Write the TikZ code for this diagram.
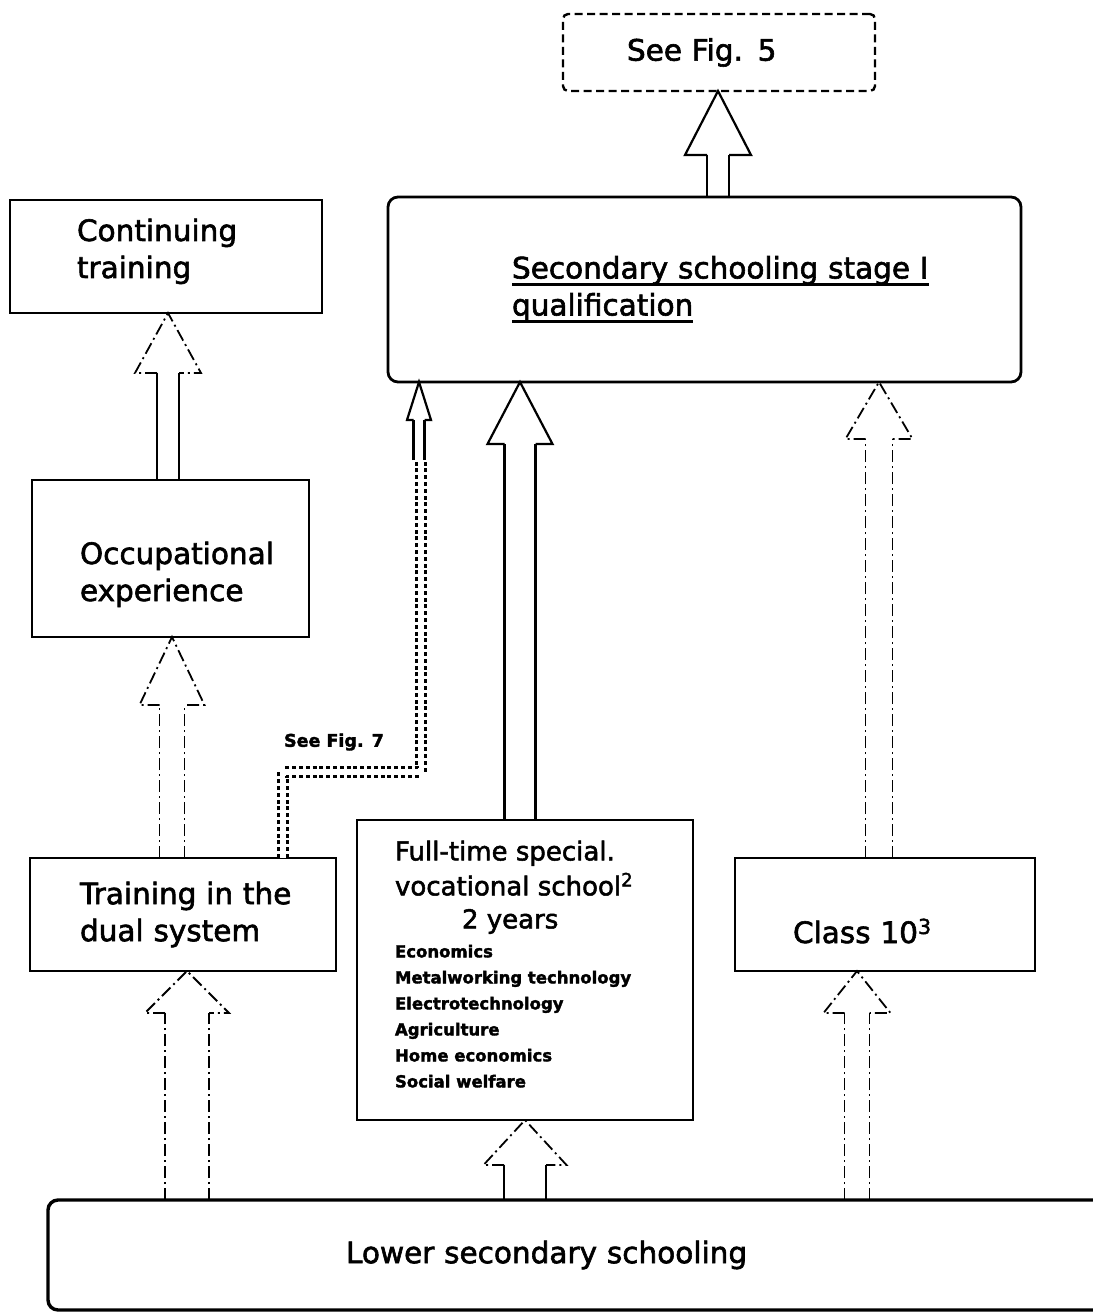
\documentclass[tikz,border=0pt]{standalone}
\usepackage{fontspec}
\setmainfont{DejaVu Sans}[FakeBold=2]
\usetikzlibrary{calc}

% thick underline that runs through the descenders
\newsavebox{\ulbox}
\newcommand{\ulbar}[1]{\leavevmode\sbox{\ulbox}{#1}\rlap{\rule[-7.5pt]{\wd\ulbox}{2.8pt}}\usebox{\ulbox}}
\newcommand{\mainfs}{\fontsize{29.5}{37}\selectfont}
\newcommand{\listfs}{\fontsize{16.5}{26}\selectfont}
\newcommand{\bigline}{\mdseries\fontsize{26}{26}\selectfont}

% hollow block arrow pointing up: shaft style, head style, x, source point,
% target point, half shaft width, half head width, head length
\newcommand{\hollowup}[8]{%
  \draw[#1] let \p1=#4, \p2=#5 in
    (#3pt-#6pt,\y1) -- (#3pt-#6pt,\y2-#8pt)
    (#3pt+#6pt,\y1) -- (#3pt+#6pt,\y2-#8pt);
  \draw[#2] let \p1=#4, \p2=#5 in
    (#3pt-#6pt,\y2-#8pt) -- (#3pt-#7pt,\y2-#8pt) -- (#3pt,\y2)
    -- (#3pt+#7pt,\y2-#8pt) -- (#3pt+#6pt,\y2-#8pt);
}

\begin{document}
\begin{tikzpicture}[x=1pt,y=-1pt,
  box/.style={draw, line width=2.8pt, align=left, inner ysep=0pt, outer sep=0pt, font=\mainfs},
  fullline/.style={line width=2.2pt, line join=miter},
  brokenline/.style={line width=1.8pt, dash pattern=on 12pt off 4pt on 2pt off 4pt},
  dotpair/.style={line width=3.4pt, double=white, double distance=5.5pt, dash pattern=on 4pt off 2.8pt},
]
\useasboundingbox (0,0) rectangle (1092,1313);

% boxes
\node[box, line width=2.4pt, dash pattern=on 8pt off 4.5pt, rounded corners=5pt,
      minimum width=312pt, minimum height=77pt, text width=184pt, inner xsep=64pt]
  (fig5) at (719,52.5) {See Fig. 5};
\node[box, rounded corners=10pt, minimum width=633pt, minimum height=185pt,
      text width=385pt, inner xsep=124pt]
  (sec) at (704.5,289.5) {\mbox{\ulbar{Secondary schooling stage I}}\\\ulbar{qualification}};
\node[box, minimum width=312pt, minimum height=113pt, text width=178pt, inner xsep=67pt,
      text height=0pt, text depth=31pt]
  (cont) at (166,256.5) {Continuing\\training};
\node[box, minimum width=277pt, minimum height=157pt, text width=181pt, inner xsep=48pt,
      text height=11pt, text depth=0pt]
  (occ) at (170.5,558.5) {\mbox{Occupational}\\experience};
\node[box, minimum width=306pt, minimum height=113pt, text width=206pt, inner xsep=50pt]
  (dual) at (183,914.5) {\mbox{Training in the}\\dual system};
\node[box, minimum width=336pt, minimum height=300pt, text width=260pt, inner xsep=38pt,
      font=\listfs\bfseries]
  (ft) at (525,970) {\spaceskip=0pt\xspaceskip=0pt
    {\bigline Full-time special.}\\[6pt]
    {\bigline vocational school\textsuperscript{2}}\\[7pt]
    {\bigline\hspace*{67pt}2 years}\\[3pt]
    Economics\\
    Metalworking technology\\
    Electrotechnology\\
    Agriculture\\
    Home economics\\
    Social welfare\rule[-12pt]{0pt}{1pt}};
\node[box, minimum width=300pt, minimum height=113pt, text width=184pt, inner xsep=58pt,
      text height=57pt, text depth=0pt]
  (c10) at (885,914.5) {Class 10\textsuperscript{3}};
\node[box, line width=3.4pt, rounded corners=10pt, minimum width=1082pt, minimum height=110pt,
      text width=486pt, inner xsep=298pt]
  (low) at (589,1255) {Lower secondary schooling};

% route from the dual system up to the qualification
\coordinate (f7) at (421,460);
\draw[dotpair] let \p1=(dual.north) in (283pt,\y1) -- (283,772) -- (421,772) -- (f7);
\node[font=\bfseries\fontsize{17.5}{20}\selectfont] (fig7) at (334,742) {See Fig. 7};
\hollowup{fullline}{fullline}{419}{(f7)}{(sec.south)}{5.5}{12}{38}

% block arrows
\hollowup{fullline}{fullline}{718}{(sec.north)}{(fig5.south)}{11}{33}{64}
\hollowup{fullline}{brokenline}{168}{(occ.north)}{(cont.south)}{11}{33}{60}
\hollowup{brokenline}{brokenline}{172}{(dual.north)}{(occ.south)}{12.5}{32.5}{68}
\hollowup{brokenline}{brokenline}{187}{(low.north)}{(dual.south)}{22}{42}{42}
\hollowup{fullline}{fullline}{520}{(ft.north)}{(sec.south)}{15.5}{32.5}{62}
\hollowup{fullline}{brokenline}{525}{(low.north)}{(ft.south)}{21}{41.5}{45}
\hollowup{brokenline}{brokenline}{879}{(c10.north)}{(sec.south)}{13.5}{33.5}{57}
\hollowup{brokenline}{brokenline}{857}{(low.north)}{(c10.south)}{12.5}{33.5}{42}
\end{tikzpicture}
\end{document}
